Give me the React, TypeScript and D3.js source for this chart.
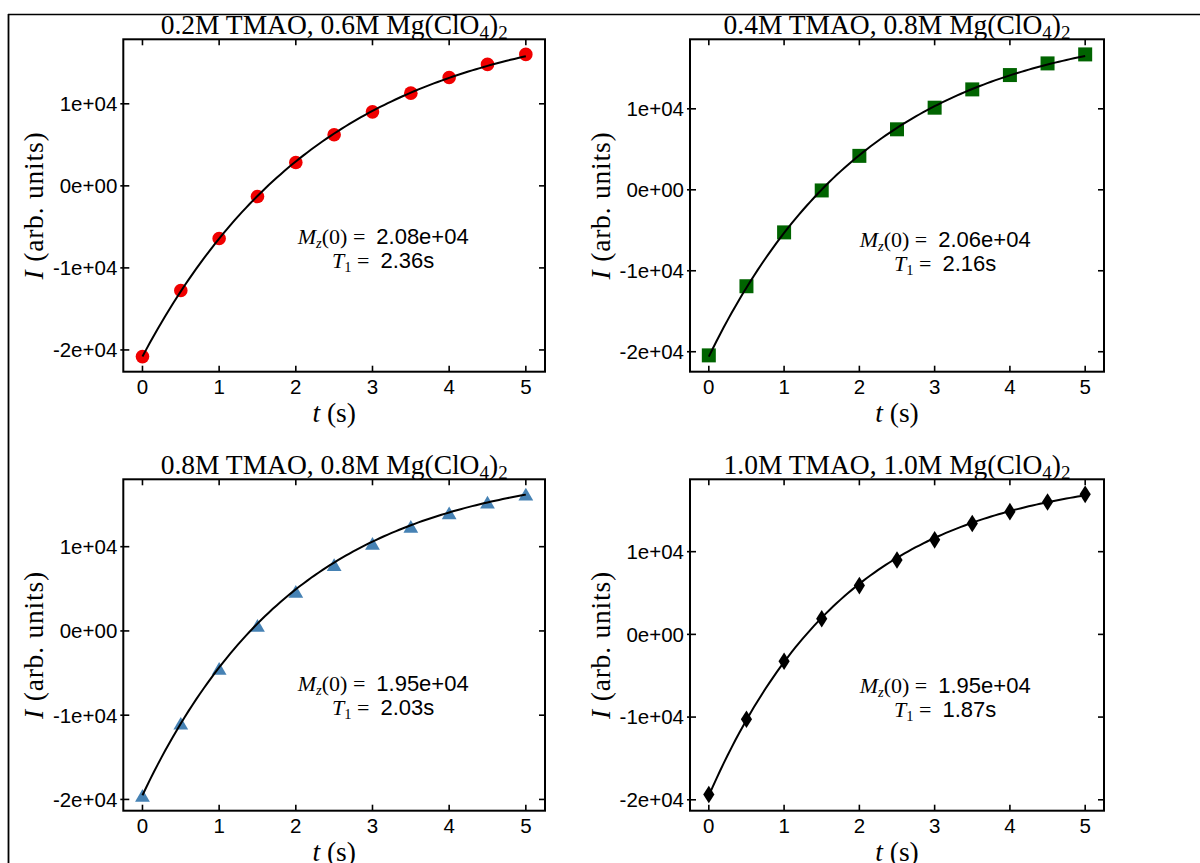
import React from "react";
import * as d3 from "d3";

// Sampling times (s) of the inversion-recovery series
const times = [0, 0.5, 1, 1.5, 2, 2.5, 3, 3.5, 4, 4.5, 5];

// Measured intensities (arb. units) per sample
const intensity02 = [-20810, -12760, -6420, -1300, 2850, 6220, 9020, 11300, 13210, 14800, 16020];
const intensity04 = [-20450, -11910, -5260, -80, 4190, 7470, 10140, 12400, 14170, 15610, 16720];
const intensity08 = [-19550, -10990, -4470, 630, 4660, 7830, 10360, 12370, 13990, 15260, 16210];
const intensity10 = [-19370, -10270, -3250, 1890, 5900, 8990, 11430, 13400, 14840, 16010, 16930];

// Fitted parameters: Mz(0) and T1 (s)
const fitM0 = [2.08e4, 2.06e4, 1.95e4, 1.95e4];
const fitT1 = [2.36, 2.16, 2.03, 1.87];

// Sample compositions
const tmaoConc = ["0.2M", "0.4M", "0.8M", "1.0M"];
const saltConc = ["0.6M", "0.8M", "0.8M", "1.0M"];

// Axis ticks
const xTicks = [0, 1, 2, 3, 4, 5];
const yTicks = [-2e4, -1e4, 0, 1e4];

const SERIF = "'Liberation Serif', 'Times New Roman', serif";
const SANS = "'Liberation Sans', Arial, sans-serif";

type Box = { left: number; right: number; top: number; bottom: number };
type MarkerKind = "circle" | "square" | "triangle" | "diamond";

const boxes: Box[] = [
  { left: 123.3, right: 545, top: 39.3, bottom: 371.7 },
  { left: 690, right: 1104, top: 39.3, bottom: 371.7 },
  { left: 123.3, right: 545, top: 479.3, bottom: 810.7 },
  { left: 690, right: 1104, top: 479.3, bottom: 810.7 },
];
const series = [intensity02, intensity04, intensity08, intensity10];
const markers: MarkerKind[] = ["circle", "square", "triangle", "diamond"];
const colors = ["#f00000", "#006400", "#4682b4", "#000000"];

// matplotlib-style exponent formatting: 2.08e+04, 0e+00
function fmtExp(v: number, digits: number): string {
  const s = v.toExponential(digits);
  const [m, e] = s.split("e");
  const sign = e[0] === "-" ? "-" : "+";
  const mag = e.replace(/[+-]/, "").padStart(2, "0");
  return `${m}e${sign}${mag}`;
}

function markerPath(kind: MarkerKind, cx: number, cy: number): string {
  const p = d3.path();
  if (kind === "circle") {
    p.moveTo(cx + 6.8, cy);
    p.arc(cx, cy, 6.8, 0, Math.PI * 2);
  } else if (kind === "square") {
    p.rect(cx - 7, cy - 7, 14, 14);
  } else if (kind === "triangle") {
    p.moveTo(cx, cy - 6.6);
    p.lineTo(cx - 7.4, cy + 6.1);
    p.lineTo(cx + 7.4, cy + 6.1);
    p.closePath();
  } else {
    p.moveTo(cx, cy - 8.8);
    p.lineTo(cx + 5.6, cy);
    p.lineTo(cx, cy + 8.8);
    p.lineTo(cx - 5.6, cy);
    p.closePath();
  }
  return p.toString();
}

function Panel({ idx }: { idx: number }) {
  const box = boxes[idx];
  const values = series[idx];
  const m0 = fitM0[idx];
  const t1 = fitT1[idx];

  const model = (t: number) => m0 * (1 - 2 * Math.exp(-t / t1));
  const curveT = d3.range(0, 5.0001, 0.05);
  const curve = curveT.map((t) => [t, model(t)] as [number, number]);

  const [x0, x1] = d3.extent(times) as [number, number];
  const xPad = (x1 - x0) * 0.05;
  const x = d3.scaleLinear().domain([x0 - xPad, x1 + xPad]).range([box.left, box.right]);

  const [lo, hi] = d3.extent([...values, ...curve.map((d) => d[1])]) as [number, number];
  const yPad = (hi - lo) * 0.05;
  const y = d3.scaleLinear().domain([lo - yPad, hi + yPad]).range([box.bottom, box.top]);

  const line = d3
    .line<[number, number]>()
    .x((d) => x(d[0]))
    .y((d) => y(d[1]))
    .curve(d3.curveLinear);

  const cxMid = (box.left + box.right) / 2;
  const cyMid = (box.top + box.bottom) / 2;
  const annX = x(3.14);
  const annY = y(-8400);

  return (
    <g>
      {/* title */}
      <text x={cxMid} y={box.top - 5} textAnchor="middle" fontFamily={SERIF} fontSize={27.5} fill="#000">
        <tspan>{`${tmaoConc[idx]} TMAO, ${saltConc[idx]} Mg(ClO`}</tspan>
        <tspan fontSize={19} dy={5}>4</tspan>
        <tspan dy={-5}>)</tspan>
        <tspan fontSize={19} dy={5}>2</tspan>
      </text>

      {/* markers */}
      {values.map((v, i) => (
        <path key={i} d={markerPath(markers[idx], x(times[i]), y(v))} fill={colors[idx]} stroke="none" />
      ))}

      {/* fitted recovery curve */}
      <path d={line(curve) || ""} fill="none" stroke="#000" strokeWidth={2} />

      {/* frame */}
      <rect
        x={box.left}
        y={box.top}
        width={box.right - box.left}
        height={box.bottom - box.top}
        fill="none"
        stroke="#000"
        strokeWidth={2}
      />

      {/* x ticks */}
      {xTicks.map((t) => (
        <g key={`x${t}`}>
          <line x1={x(t)} x2={x(t)} y1={box.bottom} y2={box.bottom - 6} stroke="#000" strokeWidth={1.6} />
          <line x1={x(t)} x2={x(t)} y1={box.top} y2={box.top + 6} stroke="#000" strokeWidth={1.6} />
          <text x={x(t)} y={box.bottom + 22} textAnchor="middle" fontFamily={SANS} fontSize={20.5} fill="#000">
            {t}
          </text>
        </g>
      ))}

      {/* y ticks */}
      {yTicks.map((v) => (
        <g key={`y${v}`}>
          <line x1={box.left - 3} x2={box.left + 6} y1={y(v)} y2={y(v)} stroke="#000" strokeWidth={1.6} />
          <line x1={box.right} x2={box.right - 6} y1={y(v)} y2={y(v)} stroke="#000" strokeWidth={1.6} />
          <text x={box.left - 6} y={y(v)} dy="0.36em" textAnchor="end" fontFamily={SANS} fontSize={20.5} fill="#000">
            {fmtExp(v, 0)}
          </text>
        </g>
      ))}

      {/* axis labels */}
      <text x={cxMid} y={box.bottom + 50} textAnchor="middle" fontFamily={SERIF} fontSize={27.5} fill="#000">
        <tspan fontStyle="italic">t</tspan>
        <tspan> (s)</tspan>
      </text>
      <text
        transform={`translate(${box.left - 80},${cyMid}) rotate(-90)`}
        textAnchor="middle"
        fontFamily={SERIF}
        fontSize={27.5}
        letterSpacing={0.8}
        fill="#000"
      >
        <tspan fontStyle="italic">I</tspan>
        <tspan> (arb. units)</tspan>
      </text>

      {/* fit annotation */}
      <text x={annX} y={annY - 11} textAnchor="middle" fontSize={22} fill="#000" xmlSpace="preserve">
        <tspan fontFamily={SERIF} fontStyle="italic">M</tspan>
        <tspan fontFamily={SERIF} fontStyle="italic" fontSize={14.5} dy={4}>z</tspan>
        <tspan fontFamily={SERIF} dy={-4}>{"(0) =  "}</tspan>
        <tspan fontFamily={SANS}>{fmtExp(m0, 2)}</tspan>
      </text>
      <text x={annX} y={annY + 13} textAnchor="middle" fontSize={22} fill="#000" xmlSpace="preserve">
        <tspan fontFamily={SERIF} fontStyle="italic">T</tspan>
        <tspan fontFamily={SERIF} fontSize={14.5} dy={4}>1</tspan>
        <tspan fontFamily={SERIF} dy={-4}>{" =  "}</tspan>
        <tspan fontFamily={SANS}>{`${t1.toFixed(2)}s`}</tspan>
      </text>
    </g>
  );
}

export default function App() {
  return (
    <svg
      width={1200}
      height={863}
      style={{ position: "absolute", left: 0, top: 0, background: "#fff" }}
      xmlns="http://www.w3.org/2000/svg"
    >
      <rect x={0} y={0} width={1200} height={863} fill="#fff" />
      {/* outer frame edges */}
      <line x1={8} x2={1200} y1={14.5} y2={14.5} stroke="#000" strokeWidth={1.6} />
      <line x1={8.5} x2={8.5} y1={14} y2={863} stroke="#000" strokeWidth={1.8} />
      {boxes.map((_, i) => (
        <Panel key={i} idx={i} />
      ))}
    </svg>
  );
}
